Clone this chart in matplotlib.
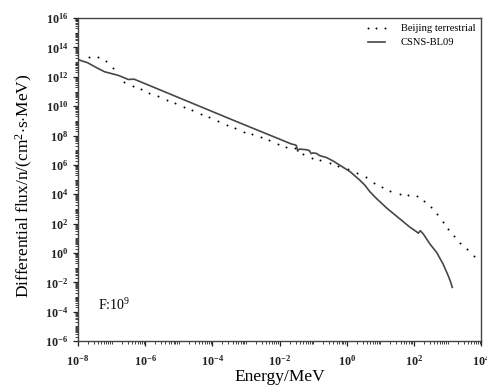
import numpy as np
import matplotlib
matplotlib.use('Agg')
import matplotlib.pyplot as plt
from matplotlib.ticker import FixedLocator, LogLocator, FuncFormatter, NullFormatter

# log10(E / MeV) and log10(flux)
beijing_logE = [-7.66, -7.41, -7.17, -6.97, -6.63, -6.37, -6.12, -5.87, -5.61, -5.36,
                -5.10, -4.85, -4.60, -4.34, -4.09, -3.83, -3.57, -3.32, -3.07, -2.82,
                -2.56, -2.32, -2.06, -1.80, -1.54, -1.29, -1.04, -0.79, -0.51, -0.25,
                0.05, 0.30, 0.56, 0.81, 1.05, 1.30, 1.57, 1.83, 2.09, 2.31,
                2.51, 2.69, 2.86, 3.02, 3.20, 3.38, 3.59, 3.79]
beijing_logF = [13.36, 13.32, 13.07, 12.59, 11.64, 11.37, 11.14, 10.89, 10.67, 10.43,
                10.21, 9.96, 9.71, 9.48, 9.24, 8.98, 8.69, 8.49, 8.21, 8.08,
                7.91, 7.69, 7.42, 7.23, 7.12, 6.74, 6.44, 6.31, 6.10, 5.90,
                5.69, 5.48, 5.19, 4.79, 4.49, 4.22, 4.04, 3.98, 3.86, 3.53,
                3.10, 2.63, 2.10, 1.61, 1.15, 0.71, 0.24, -0.20]

csns_logE = [-8.00, -7.89, -7.72, -7.49, -7.40, -7.20, -6.80, -6.50, -6.33, -6.21,
             -3.33, -1.64, -1.54, -1.50, -1.46, -1.41, -1.18, -1.11, -1.06, -1.00,
             -0.90, -0.80, -0.60, -0.40, -0.20, 0.10, 0.39, 0.54, 0.69, 0.89,
             1.21, 1.61, 1.88, 2.07, 2.13, 2.19, 2.28, 2.48, 2.68, 2.77,
             2.87, 3.02, 3.09, 3.14]
csns_logF = [13.19, 13.09, 12.97, 12.68, 12.57, 12.34, 12.10, 11.82, 11.84, 11.73,
             9.00, 7.42, 7.37, 7.32, 6.94, 7.08, 7.03, 6.97, 6.77, 6.82,
             6.78, 6.63, 6.50, 6.26, 5.97, 5.54, 4.96, 4.62, 4.17, 3.70,
             3.02, 2.27, 1.76, 1.46, 1.35, 1.52, 1.29, 0.60, 0.03, -0.35,
             -0.76, -1.55, -1.96, -2.34]

x_major = [-8, -6, -4, -2, 0, 2, 4]
y_major = [-6, -4, -2, 0, 2, 4, 6, 8, 10, 12, 14, 16]

plt.rcParams['font.family'] = ['Liberation Serif', 'DejaVu Serif']
plt.rcParams['mathtext.fontset'] = 'custom'
plt.rcParams['mathtext.rm'] = 'Liberation Serif'
plt.rcParams['mathtext.bf'] = 'Liberation Serif:bold'
plt.rcParams['mathtext.it'] = 'Liberation Serif:italic'


def pow_label(v, pos):
    e = int(round(np.log10(v)))
    return r'$\mathbf{10^{%d}}$' % e


def main():
    fig = plt.figure(figsize=(4.87, 3.85), dpi=100)
    ax = fig.add_axes([0.160, 0.114, 0.828, 0.839])

    ax.plot(10.0 ** np.array(beijing_logE), 10.0 ** np.array(beijing_logF),
            linestyle='none', marker='o', markersize=1.4, color='black',
            markeredgewidth=0, label='Beijing terrestrial')
    ax.plot(10.0 ** np.array(csns_logE), 10.0 ** np.array(csns_logF),
            color='#474747', linewidth=1.2, label='CSNS-BL09')

    ax.set_xscale('log')
    ax.set_yscale('log')
    ax.set_xlim(1e-8, 1e4)
    ax.set_ylim(1e-6, 1e16)

    ax.xaxis.set_major_locator(FixedLocator([10.0 ** e for e in x_major]))
    ax.yaxis.set_major_locator(FixedLocator([10.0 ** e for e in y_major]))
    ax.xaxis.set_minor_locator(LogLocator(base=10, subs=np.arange(1, 10), numticks=200))
    ax.yaxis.set_minor_locator(LogLocator(base=10, subs=np.arange(1, 10), numticks=200))
    ax.xaxis.set_major_formatter(FuncFormatter(pow_label))
    ax.yaxis.set_major_formatter(FuncFormatter(pow_label))
    ax.xaxis.set_minor_formatter(NullFormatter())
    ax.yaxis.set_minor_formatter(NullFormatter())

    ax.tick_params(which='major', direction='out', length=3.6, width=0.9,
                   labelsize=8.7, colors='#222222', pad=3.5)
    ax.tick_params(which='minor', direction='out', length=2.2, width=0.6,
                   colors='#222222')
    ax.tick_params(axis='x', which='major', pad=6)

    for sp in ax.spines.values():
        sp.set_color('#444444')
        sp.set_linewidth(1.0)

    ax.set_xlabel('Energy/MeV', fontsize=12.5, labelpad=0)
    ax.set_ylabel('Differential flux/n/(cm$^{\\mathrm{2}}$$\\mathrm{\\cdot}$s$\\mathrm{\\cdot}$MeV)',
                  fontsize=12.5, labelpad=1)
    ax.yaxis.set_label_coords(-0.107, 0.48)

    ax.text(0.05, 0.096, r'F:10$^{\mathrm{9}}$', transform=ax.transAxes,
            fontsize=10)

    ax.legend(loc='upper right', frameon=False, fontsize=7.6, numpoints=3,
              handlelength=2.2, borderaxespad=0.25, labelspacing=0.45,
              handletextpad=1.2, borderpad=0.3)

    fig.savefig('out.png', dpi=100)


if __name__ == '__main__':
    main()
